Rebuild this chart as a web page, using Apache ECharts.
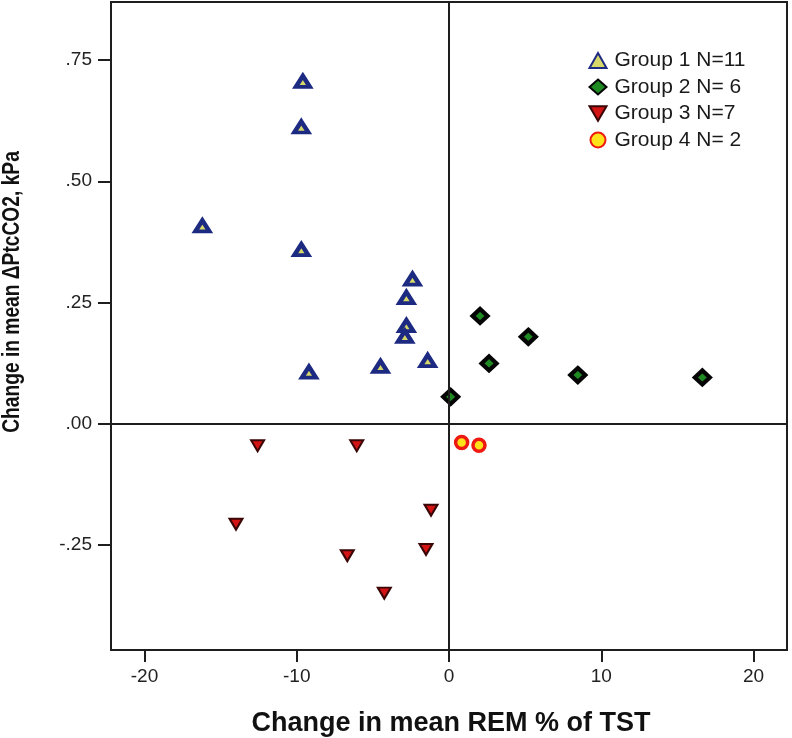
<!DOCTYPE html>
<html>
<head>
<meta charset="utf-8">
<script src="https://cdn.jsdelivr.net/npm/echarts@6/dist/echarts.min.js"></script>
<style>html,body{margin:0;padding:0;background:#fff;}#c{width:792px;height:738px;}</style>
</head>
<body>
<div id="c"></div>
<script>
// ---- data ----
const seriesNames = ['Group 1 N=11', 'Group 2 N= 6', 'Group 3 N=7', 'Group 4 N= 2'];
const g1x = [-9.6, -9.7, -16.2, -9.7, -2.4, -2.8, -2.8, -2.9, -1.4, -4.5, -9.2];
const g1y = [0.706, 0.612, 0.408, 0.359, 0.298, 0.260, 0.202, 0.180, 0.130, 0.118, 0.106];
const g2x = [2.04, 5.21, 2.63, 8.46, 16.64, 0.11];
const g2y = [0.222, 0.179, 0.124, 0.100, 0.095, 0.055];
const g3x = [-12.57, -6.06, -1.18, -13.99, -1.51, -6.68, -4.25];
const g3y = [-0.046, -0.046, -0.179, -0.208, -0.260, -0.273, -0.350];
const g4x = [0.83, 1.97];
const g4y = [-0.039, -0.045];
const xTicks = [-20, -10, 0, 10, 20];
const yTicks = [-0.25, 0, 0.25, 0.5, 0.75];
const xTitle = 'Change in mean REM % of TST';
const yTitle = 'Change in mean \u0394PtcCO2, kPa';

const pairs = (xs, ys) => xs.map((v, i) => [v, ys[i]]);
const ink = '#1e1e1e';

const chart = echarts.init(document.getElementById('c'), null, {renderer: 'canvas'});
chart.setOption({
  animation: false,
  backgroundColor: '#fff',
  grid: {left: 111, right: 5, top: 2, bottom: 88, show: true, borderColor: ink, borderWidth: 2, containLabel: false},
  xAxis: {
    type: 'value', min: -22.2, max: 22.2,
    splitLine: {show: false},
    axisLine: {show: true, onZero: false, lineStyle: {color: ink, width: 2}},
    axisTick: {show: true, length: 12, lineStyle: {color: ink, width: 2}, customValues: xTicks},
    axisLabel: {customValues: xTicks, margin: 17, color: '#222', fontFamily: 'Liberation Sans, Arial', fontSize: 19, formatter: v => String(v)}
  },
  yAxis: {
    type: 'value', min: -0.4675, max: 0.870,
    splitLine: {show: false},
    axisLine: {show: true, onZero: false, lineStyle: {color: ink, width: 2}},
    axisTick: {show: true, length: 13, lineStyle: {color: ink, width: 2}, customValues: yTicks},
    axisLabel: {customValues: yTicks, margin: 19, color: '#222', fontFamily: 'Liberation Sans, Arial', fontSize: 19,
      formatter: v => v.toFixed(2).replace('0.', '.')}
  },
  legend: {
    orient: 'vertical', left: 583.5, top: 45, itemWidth: 17, itemHeight: 15, itemGap: 5.5,
    data: seriesNames,
    textStyle: {color: '#1a1a1a', fontFamily: 'Liberation Sans, Arial', fontSize: 21, lineHeight: 20, padding: [0, 0, 0, 3]}
  },
  graphic: [
    {type: 'text', x: 451, y: 724, style: {text: xTitle, font: 'bold 27px "Liberation Sans", Arial', fill: '#111', textAlign: 'center', textVerticalAlign: 'middle'}},
    {type: 'text', x: 12, y: 292, rotation: Math.PI / 2, scaleX: 0.8, style: {text: yTitle, font: 'bold 24px "Liberation Sans", Arial', fill: '#111', textAlign: 'center', textVerticalAlign: 'middle'}}
  ],
  series: [
    {
      type: 'scatter', name: 'ref', data: [], z: 1, silent: true,
      markLine: {silent: true, symbol: 'none', label: {show: false}, animation: false,
        lineStyle: {color: ink, width: 2, type: 'solid'},
        data: [{xAxis: 0}, {yAxis: 0}]}
    },
    {
      name: seriesNames[0], type: 'scatter', z: 3, data: pairs(g1x, g1y),
      symbol: 'triangle', symbolSize: [14, 11],
      itemStyle: {color: '#d8d86a', borderColor: '#1d2a82', borderWidth: 4.2, opacity: 1}
    },
    {
      name: seriesNames[1], type: 'scatter', z: 3, data: pairs(g2x, g2y),
      symbol: 'diamond', symbolSize: [15, 14],
      itemStyle: {color: '#1f8a22', borderColor: '#050505', borderWidth: 4.2, opacity: 1}
    },
    {
      name: seriesNames[2], type: 'scatter', z: 3, data: pairs(g3x, g3y),
      symbol: 'path://M0,0 L10,0 L5,8.5 Z', symbolSize: [13, 11],
      itemStyle: {color: '#d21414', borderColor: '#3a0606', borderWidth: 2, opacity: 1}
    },
    {
      name: seriesNames[3], type: 'scatter', z: 3, data: pairs(g4x, g4y),
      symbol: 'circle', symbolSize: 12,
      itemStyle: {color: '#ffe21a', borderColor: '#ee1a12', borderWidth: 3.5, opacity: 1}
    }
  ]
});
</script>
</body>
</html>
